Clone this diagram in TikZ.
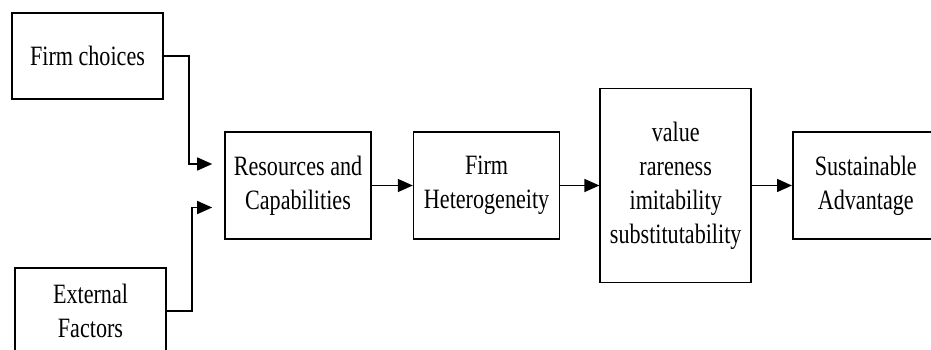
\documentclass[tikz,border=0pt]{standalone}
\usepackage{fontspec}
\setmainfont{Liberation Serif}[FakeStretch=0.79]
\usetikzlibrary{positioning, arrows.meta}
\tikzset{
  blocco/.style   = {rectangle, draw, line width=1.6pt, minimum width=146pt, minimum height=107pt, align=center, inner sep=2pt, font=\fontsize{28}{34}\selectfont},
  fonte/.style    = {blocco, minimum width=151pt, minimum height=86pt},
  criteri/.style  = {blocco, minimum width=151pt, minimum height=194pt},
  link/.style     = {line width=1.5pt, -{Triangle[length=15pt, width=13pt]}}
}
\begin{document}
\begin{tikzpicture}[x=1pt, y=-1pt]
  \useasboundingbox (0,0) rectangle (931,350);

  % fonti (sinistra)
  \node[fonte] (scelte) at (87.5,56)  {Firm choices};
  \node[fonte] (esterni) at (90.5,311) {External\\Factors};

  % catena principale
  \node[blocco] (risorse) at (298,185.5) {Resources and\\Capabilities};
  \node[blocco, right=41pt of risorse]  (etero)   {Firm\\Heterogeneity};
  \node[criteri, right=39pt of etero]   (vris)    {value\\rareness\\imitability\\substitutability};
  \node[blocco, right=40pt of vris]     (vantag)  {Sustainable\\Advantage};

  % punte libere davanti a risorse
  \coordinate (in1) at ([xshift=-12pt, yshift=21.5pt]risorse.west);
  \coordinate (in2) at ([xshift=-12pt, yshift=-22pt]risorse.west);

  \draw[link] (scelte.east) -- ++(25pt,0) |- (in1);
  \draw[link] (esterni.east) -- ++(25pt,0) |- (in2);

  \draw[link] (risorse) -- (etero);
  \draw[link] (etero) -- (vris);
  \draw[link] (vris) -- (vantag);

\end{tikzpicture}
\end{document}
